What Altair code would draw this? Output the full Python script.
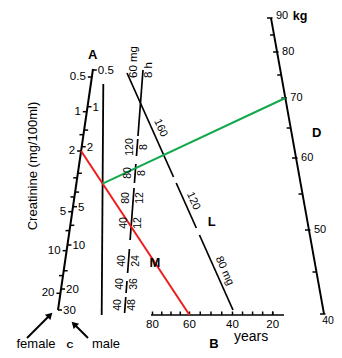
import altair as alt
import numpy as np
import pandas as pd

FONT = "Liberation Sans"

# ---------------- values shown on the nomogram ----------------
creat_female_labels = [0.5, 1, 2, 5, 10, 20]
creat_male_labels = [0.5, 1, 2, 5, 10, 20, 30]
creat_female_minor = [1.5, 3, 4, 7, 15]
creat_male_minor = [1.5, 3, 4, 7, 15]
weight_labels = [90, 80, 70, 60, 50, 40]
weight_minor = [85, 75, 65, 55, 45]
age_labels = [80, 60, 40, 20]
age_ticks = [80, 75, 70, 65, 60, 55, 50, 45, 40, 35, 30, 25, 20, 15]
m_numerators = ["120", "80", "80", "40", "40", "40", "40"]
m_denominators = ["8", "8", "12", "12", "24", "36", "48"]
l_labels = ["160", "120", "80 mg"]

# example reading drawn on the chart
sel_creatinine = 2      # female scale
sel_age = 60
sel_weight = 70

# ---------------- geometry of the nomogram (px) ----------------
A_top, A_bot = (93.0, 69.0), (58.0, 310.0)
female_cal_v = [0.5, 1, 2, 5, 10, 20]
female_cal_y = [77, 111.7, 151, 211.7, 250.7, 293.3]
male_cal_v = [0.5, 1, 2, 5, 10, 20, 30]
male_cal_y = [70, 106.7, 146.7, 206.7, 245, 289, 310]
V_top, V_bot = (103.3, 84.0), (101.7, 315.0)
M_top, M_bot = (143.0, 70.0), (124.5, 314.0)
m_bar_ranges = [(70, 136), (139, 156), (164, 183), (188, 240), (249, 273), (281, 293), (297, 313)]
m_frac_y = [147, 173, 198, 223, 261, 284, 305]
L_top, L_bot = (127.0, 73.0), (233.0, 310.0)
l_segments = [(73, 177), (183, 228), (235, 310)]
l_label_y = [130, 203, 273]
D_top, D_bot = (271.0, 18.0), (324.0, 314.0)
weight_cal_v = [40, 50, 60, 70, 80, 90]
weight_cal_y = [314, 230, 158, 98, 52, 18]
B_y = 315.0
age_cal_v = [20, 40, 60, 80]
age_cal_x = [272.7, 232.5, 189.5, 152.5]
B_x0, B_x1 = 151.0, 284.0


def x_on(line, y):
    (x0, y0), (x1, y1) = line
    return x0 + (y - y0) * (x1 - x0) / (y1 - y0)


def y_female(v):
    return float(np.interp(np.log(v), np.log(female_cal_v), female_cal_y))


def y_male(v):
    return float(np.interp(np.log(v), np.log(male_cal_v), male_cal_y))


def y_weight(v):
    return float(np.interp(v, weight_cal_v, weight_cal_y))


def x_age(v):
    return float(np.interp(v, age_cal_v, age_cal_x))


A = (A_top, A_bot)
V = (V_top, V_bot)
M = (M_top, M_bot)
L = (L_top, L_bot)
D = (D_top, D_bot)

rules = []   # x, y, x2, y2, c, w
texts = []   # x, y, t, a, s, align, bold


def seg(x, y, x2, y2, c="black", w=1.6):
    rules.append(dict(x=x, y=y, x2=x2, y2=y2, c=c, w=w))


def txt(x, y, t, a=0, s=11, align="center", bold=False):
    texts.append(dict(x=x, y=y, t=t, a=a, s=s, align=align, bold=bold))


# axis A (creatinine)
seg(A_top[0], A_top[1], A_bot[0], A_bot[1], w=2.0)
for v in creat_female_labels + creat_female_minor:
    y = y_female(v)
    xa = x_on(A, y)
    seg(xa - 4, y, xa, y, w=1.5)
for v in creat_female_labels:
    y = y_female(v)
    txt(x_on(A, y) - 6, y, f"{v:g}", align="right", s=11.5)
for v in creat_male_labels + creat_male_minor:
    y = y_male(v)
    xa = x_on(A, y)
    seg(xa, y, xa + 4, y, w=1.5)
for v in creat_male_labels:
    y = y_male(v)
    txt(x_on(A, y) + 5, y + 1, f"{v:g}", align="left", s=11.5)
txt(92.7, 55, "A", s=13, bold=True)
txt(33, 166, "Creatinine (mg/100ml)", a=270, s=13)

# vertical reference line
seg(V_top[0], V_top[1], V_bot[0], V_bot[1], w=1.8)

# axis M (mg / h fractions)
for (ya, yb) in m_bar_ranges:
    seg(x_on(M, ya), ya, x_on(M, yb), yb, w=1.7)
for num, den, y in zip(m_numerators, m_denominators, m_frac_y):
    xm = x_on(M, y)
    txt(xm - 7, y, num, a=270, s=10.5)
    txt(xm + 7, y, den, a=270, s=10.5)
txt(134, 62, "60 mg", a=270, s=11.5)
txt(149, 70, "8 h", a=270, s=11.5)
txt(155, 263, "M", s=13, bold=True)

# axis L (mg)
for (ya, yb) in l_segments:
    seg(x_on(L, ya), ya, x_on(L, yb), yb, w=1.7)
l_angle = float(np.degrees(np.arctan2(L_bot[1] - L_top[1], L_bot[0] - L_top[0])))
for lab, y in zip(l_labels, l_label_y):
    txt(x_on(L, y) + 8, y - 2, lab, a=l_angle, s=11)
txt(211.7, 221.7, "L", s=13, bold=True)

# axis D (weight)
seg(D_top[0], D_top[1], D_bot[0], D_bot[1], w=1.9)
for v in weight_labels + weight_minor:
    y = y_weight(v)
    xd = x_on(D, y)
    seg(xd - 4, y, xd + (1.5 if v in weight_labels else 0), y, w=1.5)
for v in weight_labels:
    y = y_weight(v)
    if v == 40:
        txt(328, y + 7, f"{v}", align="center", s=10.5)
    else:
        txt(x_on(D, y) + 5, y - (2 if v == 90 else 0), f"{v}", align="left", s=11)
txt(300, 16, "kg", s=12.5, bold=True)
txt(316.7, 133, "D", s=13, bold=True)

# axis B (age)
seg(B_x0, B_y, B_x1, B_y, w=1.7)
for v in age_ticks:
    xb = x_age(v)
    seg(xb, B_y, xb, B_y - 3.5, w=1.5)
for v in age_labels:
    txt(x_age(v), B_y + 10, f"{v}", s=11.5)
txt(251, 337, "years", s=14)
txt(214, 344, "B", s=13, bold=True)

# example reading: red and green lines
ra = (x_on(A, y_female(sel_creatinine)), y_female(sel_creatinine))
rb = (x_age(sel_age), B_y)
seg(ra[0], ra[1], rb[0], rb[1], c="#ee1c1c", w=2.0)
# crossing with the vertical reference line
t_ = np.linspace(0, 1, 2001)
rx = ra[0] + t_ * (rb[0] - ra[0])
ry = ra[1] + t_ * (rb[1] - ra[1])
vx = np.array([x_on(V, yy) for yy in ry])
k = int(np.argmin(np.abs(rx - vx)))
cross = (rx[k], ry[k])
wd = (x_on(D, y_weight(sel_weight)), y_weight(sel_weight))
seg(cross[0], cross[1], wd[0], wd[1], c="#12a84c", w=2.0)

# bottom labels and arrows
txt(36, 344, "female", s=13)
txt(106, 344, "male", s=13)
txt(70, 345, "C", s=9.5, bold=True)
arrows = [((27, 338), (50, 315)), ((88, 338), (74, 324))]
heads = []
for (p0, p1) in arrows:
    seg(p0[0], p0[1], p1[0], p1[1], w=1.9)
    ang = float(np.degrees(np.arctan2(p1[0] - p0[0], -(p1[1] - p0[1]))))
    heads.append(dict(x=p1[0], y=p1[1], a=ang % 360))

rules_df = pd.DataFrame(rules)
texts_df = pd.DataFrame(texts)
heads_df = pd.DataFrame(heads)

W, H = 326, 342
xs = alt.Scale(domain=[8, 8 + W], nice=False, zero=False)
ys = alt.Scale(domain=[8, 8 + H], nice=False, zero=False, reverse=True)

rule_layer = alt.Chart(rules_df).mark_rule(strokeCap="butt").encode(
    x=alt.X("x:Q", scale=xs, axis=None),
    y=alt.Y("y:Q", scale=ys, axis=None),
    x2="x2:Q",
    y2="y2:Q",
    color=alt.Color("c:N", scale=None),
    strokeWidth=alt.StrokeWidth("w:Q", scale=None),
)

head_layer = alt.Chart(heads_df).mark_point(
    shape="triangle-up", filled=True, color="black", size=60, opacity=1
).encode(
    x=alt.X("x:Q", scale=xs, axis=None),
    y=alt.Y("y:Q", scale=ys, axis=None),
    angle=alt.Angle("a:Q", scale=None),
)

layers = [rule_layer, head_layer]
for (align, bold), grp in texts_df.groupby(["align", "bold"]):
    layers.append(
        alt.Chart(grp.drop(columns=["align", "bold"])).mark_text(
            align=align, baseline="middle", font=FONT,
            fontWeight="bold" if bold else "normal", color="black"
        ).encode(
            x=alt.X("x:Q", scale=xs, axis=None),
            y=alt.Y("y:Q", scale=ys, axis=None),
            text="t:N",
            angle=alt.Angle("a:Q", scale=None),
            size=alt.Size("s:Q", scale=None),
        )
    )

chart = alt.layer(*layers).properties(
    width=W, height=H, padding=0, autosize=alt.AutoSizeParams(type="none"),
    background="white",
).configure_view(stroke=None)

chart.save("out.html", embed_options={"renderer": "svg", "actions": False})
